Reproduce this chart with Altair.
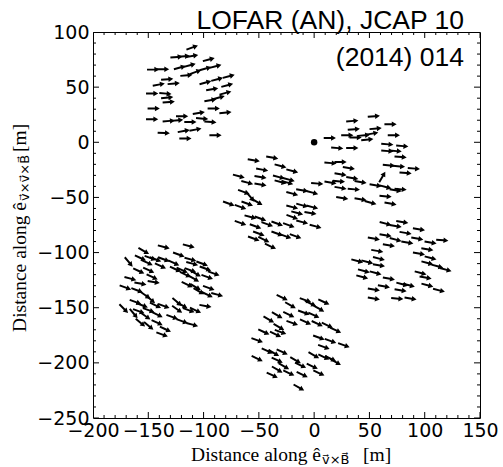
import altair as alt
import pandas as pd

# ---- arrow data (positions in metres, tilt = degrees below horizontal) ----
c1_x = [-110.3, -124.5, -117.9, -110.3, -95.3, -145.6, -136.6, -121.5, -112.5, -98.3, -89.2, -107.3, -115.5, -132.9, -140.5, -127.0, -98.3, -87.7, -77.2, -78.6, -92.2, -146.5, -134.5, -132.9, -131.5, -80.2, -86.2, -93.8, -145.1, -90.8, -80.2, -146.5, -131.5, -123.9, -119.4, -111.9, -104.3, -101.3, -93.8, -136.0, -117.9, -107.3, -89.2, -116.4]
c1_y = [85.9, 77.3, 78.0, 78.2, 75.0, 65.9, 66.2, 67.7, 69.8, 66.8, 68.9, 63.7, 60.7, 57.1, 52.3, 53.2, 54.1, 57.1, 59.8, 51.7, 48.1, 44.2, 44.2, 40.5, 36.5, 44.7, 40.5, 38.1, 30.6, 30.6, 26.9, 20.9, 19.3, 19.9, 23.6, 18.4, 26.6, 21.5, 18.4, 8.4, 10.2, 11.5, 6.3, 3.4]
c1_t = [-20, -5, -5, -10, -15, 0, 0, -15, -15, -15, -15, -20, -5, -5, -10, -5, -15, -15, -15, -15, -10, 0, 5, -5, -5, -15, -15, -10, 0, 0, -5, 0, -5, -5, 0, 0, -10, 5, 5, 3, -10, -10, 0, 0]

c2_x = [34.5, 54.0, 69.1, 35.9, 55.6, 14.2, 30.0, 37.5, 45.0, 52.6, 48.1, 72.1, 20.9, 34.5, 66.2, 79.7, 66.2, 73.7, 78.2, 14.8, 23.9, 31.4, 67.6, 76.7, 90.2, 82.7, 23.9, 34.5, 42.0, 61.6, 14.8, 22.4, 23.9, 35.9, 55.6, 64.6, 73.7, 78.2, 25.4, 42.0, 51.0, 64.6, 69.1]
c2_y = [19.3, 23.6, 16.3, 11.8, 12.4, 3.9, 6.3, 4.3, 6.3, 7.9, 2.4, 6.3, -5.2, -5.2, -1.8, -3.4, -7.9, -7.9, -13.3, -18.8, -17.9, -23.3, -20.9, -21.8, -23.8, -27.8, -29.0, -32.4, -36.0, -31.5, -36.5, -35.4, -41.4, -42.6, -39.0, -40.5, -43.5, -42.6, -50.5, -51.7, -54.7, -49.0, -55.6]
c2_t = [-5, -5, 0, -5, -5, 0, 0, 0, -5, -10, -5, 0, 5, 0, 5, 5, 5, 5, 5, 5, 0, 10, 5, 5, 5, 5, 10, 10, 10, -60, 10, 5, 10, 5, 10, 15, 10, 5, 10, 10, 15, 5, 10]

c3_x = [-54.6, -37.9, -47.0, -30.4, -19.8, -68.1, -48.5, -31.9, -22.9, -60.5, -48.5, -30.4, -24.3, 2.8, -63.6, -57.6, -51.5, -19.8, -10.8, -1.7, -77.2, -66.6, -60.5, -19.8, -10.8, -1.7, -3.3, -15.3, -19.8, -57.6, -48.5, -66.6, -53.0, -42.4, -33.4, -22.9, -10.8, 1.3, -50.0, -33.4, -25.9, -16.8, -54.6, -45.5, -39.5]
c3_y = [-16.3, -13.9, -24.8, -21.5, -26.0, -30.8, -31.5, -31.5, -33.8, -36.5, -38.3, -36.0, -36.5, -37.4, -45.1, -49.6, -54.1, -46.5, -43.5, -45.6, -55.6, -58.7, -55.6, -58.7, -57.1, -58.7, -64.1, -64.1, -67.7, -67.7, -69.2, -73.2, -76.2, -74.3, -73.7, -75.2, -72.3, -76.2, -82.8, -82.8, -85.2, -85.2, -87.3, -88.2, -94.3]
c3_t = [10, 10, 10, 15, 15, 15, 10, 15, 15, 15, 10, 15, 15, 5, 20, 50, 30, 15, 10, 15, 20, 20, 20, 15, 15, 15, 10, 15, 20, 15, 20, 20, 20, 20, 20, 20, 15, 15, 20, 20, 20, 20, 20, 25, 25]

c4_x = [-136.0, -113.4, -154.1, -122.4, -157.1, -148.1, -143.5, -136.0, -111.9, -167.7, -151.0, -127.0, -110.3, -101.3, -139.0, -125.4, -119.4, -111.9, -98.3, -158.6, -149.6, -116.4, -107.3, -90.8, -146.5, -166.2, -108.9, -96.7, -157.1, -145.1, -114.8, -107.3, -95.3, -170.7, -160.1, -104.3, -152.6, -96.7, -87.7, -148.1, -161.6, -155.6, -143.5, -123.9, -119.4, -136.0, -172.2, -158.6, -149.6, -123.9, -113.4, -107.3, -98.3, -142.0, -163.2, -152.6, -128.4, -119.4, -110.3, -157.1, -149.6, -142.0, -134.5, -137.5]
c4_y = [-94.9, -94.0, -98.5, -101.8, -104.9, -104.9, -106.1, -106.1, -106.1, -108.5, -109.1, -109.4, -110.0, -110.0, -112.1, -115.1, -116.0, -116.0, -114.5, -116.7, -116.0, -119.9, -119.0, -119.0, -122.1, -123.6, -123.6, -122.1, -128.1, -126.7, -129.0, -131.2, -132.1, -131.7, -134.2, -135.1, -138.7, -138.1, -138.1, -142.3, -144.8, -147.8, -147.8, -144.8, -147.8, -148.4, -150.8, -153.2, -152.3, -151.4, -152.3, -152.3, -148.4, -156.2, -155.3, -157.5, -158.4, -162.3, -165.3, -163.5, -166.5, -163.5, -169.5, -174.3]
c4_t = [15, 15, 30, 20, 25, 20, 20, 20, 15, 50, 25, 25, 15, 20, 25, 25, 25, 20, 20, 25, 25, 25, 30, 20, 25, 15, 30, 20, 10, 10, 25, 30, 20, 20, 20, 30, 35, 25, 15, 40, 20, 20, 25, 40, 30, 20, 45, 20, 20, 35, 20, 25, 10, 25, 50, 35, 20, 20, 15, 40, 40, 25, 25, 20]

c5_x = [64.6, 79.7, 73.7, 94.8, 64.6, 82.7, 54.0, 73.7, 84.3, 93.3, 105.3, 115.9, 67.6, 57.1, 94.8, 102.4, 58.6, 39.0, 48.1, 58.6, 105.3, 102.4, 111.4, 118.9, 45.0, 55.6, 96.3, 43.5, 67.6, 100.8, 79.7, 85.7, 63.1, 102.4, 112.9, 54.0, 78.2, 54.0, 75.2, 87.2]
c5_y = [-73.7, -72.3, -75.9, -78.9, -84.3, -82.2, -87.3, -88.2, -90.9, -87.3, -90.9, -88.8, -93.4, -98.5, -100.9, -97.0, -105.4, -107.6, -108.5, -111.5, -104.9, -109.4, -112.4, -115.4, -116.7, -118.5, -118.5, -122.1, -123.6, -122.7, -128.7, -129.6, -130.6, -129.6, -134.2, -133.5, -134.2, -141.7, -141.7, -141.7]
c5_t = [15, 10, 10, 10, 10, 10, 10, 15, 10, 10, 10, 5, 10, 10, 10, 10, 15, 15, 15, 10, 15, 15, 15, 15, 15, 15, 15, 15, 10, 10, 15, 15, 10, 15, 15, 10, 10, 10, 5, 10]

c6_x = [-28.9, -7.8, 8.8, -21.4, -3.3, 4.3, -33.4, -22.9, -9.3, -0.3, -41.0, -19.8, -7.8, 2.8, 11.9, 19.4, -31.9, -30.4, -45.5, -34.9, -51.5, 4.3, 14.8, 26.9, 8.8, -42.4, -36.5, -28.9, -0.3, 8.8, 14.8, 19.4, -51.5, -33.4, -16.8, -12.3, -27.4, -1.7, -33.4, -22.9, -10.8, 4.3, -37.9, -13.8]
c6_y = [-140.8, -143.2, -144.8, -147.8, -146.2, -150.8, -156.8, -156.2, -154.4, -156.8, -160.7, -163.8, -162.9, -164.4, -165.9, -170.4, -167.5, -172.0, -172.0, -174.1, -179.5, -177.1, -180.1, -184.0, -185.6, -189.2, -191.0, -190.1, -193.1, -194.7, -196.1, -199.2, -196.1, -197.6, -197.6, -202.2, -203.1, -203.1, -206.1, -209.2, -210.6, -209.2, -211.2, -222.4]
c6_t = [25, 20, 25, 30, 25, 30, 30, 25, 20, 25, 30, 20, 25, 25, 25, 25, 30, 20, 25, 25, 20, 20, 20, 20, 20, 25, 30, 25, 30, 25, 25, 30, 25, 25, 30, 25, 30, 25, 30, 25, 25, 25, 25, 30]

core_x = [0]
core_y = [0]

x_ticklabels = [-200, -150, -100, -50, 0, 50, 100, 150]
y_ticklabels = [-250, -200, -150, -100, -50, 0, 50, 100]
x_ticks = list(range(-200, 151, 10))
y_ticks = list(range(-250, 101, 10))

title_lines = ["LOFAR (AN), JCAP 10", "(2014) 014"]

# ---- tables ----
xs = c1_x + c2_x + c3_x + c4_x + c5_x + c6_x
ys = c1_y + c2_y + c3_y + c4_y + c5_y + c6_y
ts = c1_t + c2_t + c3_t + c4_t + c5_t + c6_t
arrows = pd.DataFrame({"x": xs, "y": ys, "tilt": ts})
arrows["ang"] = arrows["tilt"] % 360

W, H = 387, 386
xscale = alt.Scale(domain=[-200, 150], nice=False, zero=False)
yscale = alt.Scale(domain=[-250, 100], nice=False, zero=False)

ARROW = "M -1 -0.16 L 0.2 -0.16 L 0.2 -0.45 L 1 0 L 0.2 0.45 L 0.2 0.16 L -1 0.16 Z"

base_axis = dict(ticks=False, domain=False, grid=False, labelFontSize=19,
                 labelFont="DejaVu Sans", labelColor="black", title=None,
                 labelOverlap=False, labelFlush=False, labelBound=False)
XAX = alt.Axis(values=x_ticklabels, labelPadding=3, **base_axis)
YAX = alt.Axis(values=y_ticklabels, labelPadding=4, **base_axis)

arrow_layer = alt.Chart(arrows).mark_point(
    shape=ARROW, filled=True, color="black", opacity=1, size=150, strokeWidth=0
).encode(
    x=alt.X("x:Q", scale=xscale, axis=XAX),
    y=alt.Y("y:Q", scale=yscale, axis=YAX),
    angle=alt.Angle("ang:Q", scale=None),
)

core = alt.Chart(pd.DataFrame({"x": core_x, "y": core_y})).mark_circle(
    size=42, color="black", opacity=1
).encode(x=alt.X("x:Q", scale=xscale, axis=XAX), y=alt.Y("y:Q", scale=yscale, axis=YAX))

xt = pd.DataFrame({"x": x_ticks})
xt["len"] = [12 if v % 50 == 0 else 6 for v in x_ticks]
yt = pd.DataFrame({"y": y_ticks})
yt["len"] = [12 if v % 50 == 0 else 6 for v in y_ticks]

tick_layers = []
for ypos in [0, H]:
    tick_layers.append(
        alt.Chart(xt).mark_tick(orient="vertical", clip=True, color="black", thickness=1, opacity=1)
        .encode(x=alt.X("x:Q", scale=xscale, axis=XAX), y=alt.value(ypos),
                size=alt.Size("len:Q", scale=None, legend=None))
    )
for xpos in [0, W]:
    tick_layers.append(
        alt.Chart(yt).mark_tick(orient="horizontal", clip=True, color="black", thickness=1, opacity=1)
        .encode(y=alt.Y("y:Q", scale=yscale, axis=YAX), x=alt.value(xpos),
                size=alt.Size("len:Q", scale=None, legend=None))
    )

def txt(s, x, y, size, font, align="left", angle=0, baseline="alphabetic"):
    kw = dict(align=align, baseline=baseline, fontSize=size, font=font, color="black")
    if angle:
        kw["angle"] = angle
    return alt.Chart(pd.DataFrame({"t": [s]})).mark_text(**kw).encode(
        text="t:N", x=alt.value(x), y=alt.value(y))

title1 = txt(title_lines[0], 371, -3.5, 26.5, "Liberation Sans", align="right")
title2 = txt(title_lines[1], 371, 34, 26.5, "Liberation Sans", align="right")

# x axis title
xt1 = txt("Distance along ê", 228, 429, 19.5, "Liberation Serif", align="right")
xt2 = txt("v⃗×B⃗", 229, 432, 13, "DejaVu Sans", align="left")
xt3 = txt("[m]", 270, 429, 19.5, "Liberation Serif", align="left")
# y axis title (rotated)
yt1 = txt("Distance along ê", -67, 170, 19.5, "Liberation Serif", align="right", angle=270)
yt2 = txt("v⃗×v⃗×B⃗", -64, 169, 13, "DejaVu Sans", align="left", angle=270)
yt3 = txt("[m]", -67, 120, 19.5, "Liberation Serif", align="left", angle=270)

chart = alt.layer(
    arrow_layer, core, *tick_layers, title1, title2, xt1, xt2, xt3, yt1, yt2, yt3
).properties(
    width=W, height=H,
    padding={"left": 93, "top": 32, "right": 23, "bottom": 49},
    autosize=alt.AutoSizeParams(type="none"),
).configure_view(stroke="black", strokeWidth=1)

chart.save("out.html", embed_options={"renderer": "svg", "actions": False})
